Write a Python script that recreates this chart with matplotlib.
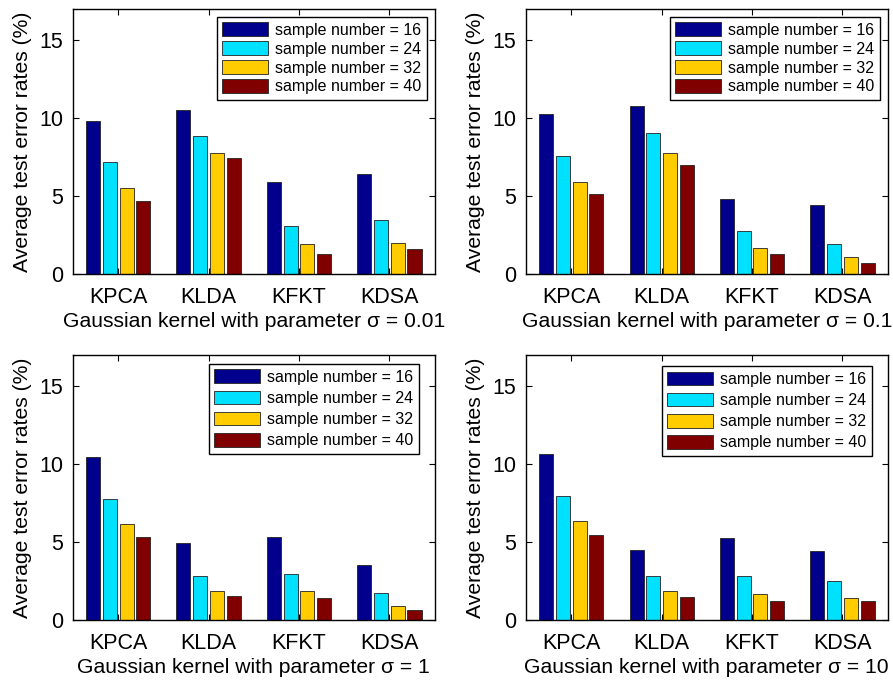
import numpy as np
import matplotlib
matplotlib.use('Agg')
import matplotlib.pyplot as plt

plt.rcParams['font.family'] = ['Liberation Sans', 'DejaVu Sans']

methods = ['KPCA', 'KLDA', 'KFKT', 'KDSA']
sample_numbers = [16, 24, 32, 40]
sigmas = ['0.01', '0.1', '1', '10']
colors = ['#00008C', '#00E0FF', '#FFCC00', '#800000']

# rows: method, columns: sample number
err_s001 = [[9.84, 7.19, 5.50, 4.71],
            [10.49, 8.82, 7.75, 7.43],
            [5.93, 3.10, 1.90, 1.26],
            [6.42, 3.49, 2.01, 1.63]]
err_s01 = [[10.27, 7.58, 5.91, 5.11],
           [10.74, 9.01, 7.77, 7.02],
           [4.81, 2.76, 1.67, 1.26],
           [4.41, 1.90, 1.11, 0.68]]
err_s1 = [[10.42, 7.79, 6.16, 5.31],
          [4.94, 2.85, 1.88, 1.54],
          [5.35, 2.93, 1.84, 1.39],
          [3.55, 1.71, 0.92, 0.62]]
err_s10 = [[10.66, 7.98, 6.33, 5.48],
           [4.49, 2.80, 1.88, 1.50],
           [5.24, 2.80, 1.67, 1.24],
           [4.41, 2.48, 1.43, 1.24]]

all_err = [err_s001, err_s01, err_s1, err_s10]

fig = plt.figure(figsize=(8.93, 6.8), dpi=100)

positions = [[0.0817, 0.597, 0.405, 0.390],
             [0.589, 0.597, 0.405, 0.390],
             [0.0817, 0.0882, 0.405, 0.390],
             [0.589, 0.0882, 0.405, 0.390]]
# legend anchor (axes fraction) and row spacing differ between rows
leg_anchor = [(0.978, 0.97), (0.978, 0.97), (0.956, 0.966), (0.956, 0.958)]
leg_space = [0.22, 0.22, 0.36, 0.36]

x = np.arange(1, len(methods) + 1)
step = 0.185
width = 0.155

for k in range(4):
    ax = fig.add_axes(positions[k])
    data = np.array(all_err[k])
    for j in range(len(sample_numbers)):
        ax.bar(x + (j - 1.5) * step, data[:, j], width=width,
               color=colors[j], edgecolor='#222222', linewidth=0.6,
               label='sample number = %d' % sample_numbers[j])
    ax.set_xlim(0.5, 4.5)
    ax.set_ylim(0, 17)
    ax.set_xticks(x)
    ax.set_xticklabels(methods, fontsize=15.5)
    ax.set_yticks([0, 5, 10, 15])
    ax.tick_params(axis='y', labelsize=15.5, pad=7)
    ax.tick_params(direction='in', top=True, right=True, length=4, width=0.8)
    ax.tick_params(axis='x', pad=9)
    for sp in ax.spines.values():
        sp.set_linewidth(1.0)
    ax.set_ylabel('Average test error rates (%)', fontsize=15.2)
    ax.yaxis.set_label_coords(-0.112, 0.5)
    ax.set_xlabel('Gaussian kernel with parameter \u03c3 = ' + sigmas[k],
                  fontsize=15.2, labelpad=3)
    leg = ax.legend(loc='upper right', bbox_to_anchor=leg_anchor[k],
                    fontsize=11.5, handlelength=2.9, handleheight=0.95,
                    labelspacing=leg_space[k], handletextpad=0.4,
                    borderpad=0.35, borderaxespad=0.0, fancybox=False,
                    framealpha=1)
    leg.get_frame().set_edgecolor('black')
    leg.get_frame().set_linewidth(1.0)

fig.savefig('out.png', dpi=100)
